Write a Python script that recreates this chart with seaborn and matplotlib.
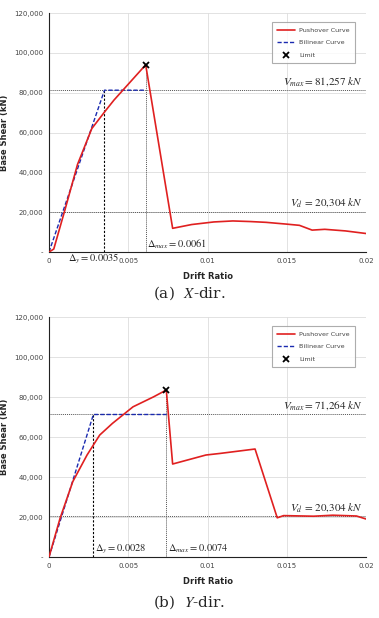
"""
Pushover curves (X and Y direction) with bilinear idealisation
"""
import numpy as np
import pandas as pd
import matplotlib.pyplot as plt
import seaborn as sns

sns.set_style("whitegrid")
plt.rcParams['font.family'] = ['DejaVu Sans']
plt.rcParams['mathtext.fontset'] = 'stix'

# --- X-direction data ---
x_drift = [0, 0.0003, 0.0010, 0.0018, 0.0027, 0.0036, 0.0041, 0.0061,
           0.0078, 0.0090, 0.0104, 0.0116, 0.0127, 0.0137, 0.0150, 0.0158,
           0.0166, 0.0174, 0.0187, 0.0200]
x_shear = [0, 1500, 21000, 44000, 62000, 71300, 76300, 94000,
           11900, 13800, 15100, 15600, 15300, 14900, 14000, 13400,
           11000, 11400, 10600, 9300]
x_bi_drift = [0, 0.0035, 0.0061]
x_bi_shear = [0, 81257, 81257]
x_dy, x_dmax = 0.0035, 0.0061
x_vmax, x_vd = 81257, 20304
x_peak = (0.0061, 94000)

# --- Y-direction data ---
y_drift = [0, 0.0007, 0.0015, 0.0024, 0.0028, 0.0032, 0.0040, 0.0053,
           0.0066, 0.0074, 0.0078, 0.0099, 0.0108, 0.0130, 0.0144, 0.0148,
           0.0167, 0.0179, 0.0194, 0.0200]
y_shear = [0, 19400, 37700, 51000, 56000, 61000, 66800, 75100,
           80100, 83500, 46500, 51000, 51800, 54000, 19600, 20700,
           20400, 20900, 20500, 19000]
y_bi_drift = [0, 0.0028, 0.0074]
y_bi_shear = [0, 71264, 71264]
y_dy, y_dmax = 0.0028, 0.0074
y_vmax, y_vd = 71264, 20304
y_peak = (0.0074, 83500)

x_ticks = [0, 0.005, 0.01, 0.015, 0.02]
x_tick_labels = ['0', '0.005', '0.01', '0.015', '0.02']
y_ticks = [0, 20000, 40000, 60000, 80000, 100000, 120000]
y_tick_labels = ['-', '20,000', '40,000', '60,000', '80,000', '100,000', '120,000']


def draw_panel(ax, drift, shear, bi_drift, bi_shear, dy, dmax, vmax, vd, peak,
               dy_label_y, dmax_label_y, dy_label_x, vmax_label, dy_label, dmax_label, vd_label):
    push = pd.DataFrame({'drift': drift, 'shear': shear})
    bil = pd.DataFrame({'drift': bi_drift, 'shear': bi_shear})

    # reference lines
    ax.axhline(vmax, color='#555555', lw=0.7, ls=(0, (1, 1)), zorder=1)
    ax.axhline(vd, color='#555555', lw=0.7, ls=(0, (1, 1)), zorder=1)
    ax.plot([dy, dy], [0, vmax], color='black', lw=0.8, ls=(0, (2, 1.5)), zorder=1)
    ax.plot([dmax, dmax], [0, peak[1]], color='#555555', lw=0.7, ls=(0, (1, 1)), zorder=1)

    sns.lineplot(data=push, x='drift', y='shear', ax=ax, color='#e02020', lw=1.2,
                 sort=False, label='Pushover Curve', zorder=3)
    sns.lineplot(data=bil, x='drift', y='shear', ax=ax, color='#1a2ab0', lw=1.0,
                 ls=(0, (3, 1.5)), sort=False, label='Bilinear Curve', zorder=2)
    ax.plot([peak[0]], [peak[1]], marker='x', color='black', ms=4, mew=1.3,
            ls='none', label='Limit', zorder=4)

    ax.set_xlim(0, 0.02)
    ax.set_ylim(0, 120000)
    ax.set_xticks(x_ticks)
    ax.set_xticklabels(x_tick_labels)
    ax.set_yticks(y_ticks)
    ax.set_yticklabels(y_tick_labels)
    ax.tick_params(labelsize=5, colors='#444444', pad=4, length=0)
    ax.grid(True, color='#dddddd', lw=0.6)
    for side in ['top', 'right']:
        ax.spines[side].set_visible(False)
    for side in ['left', 'bottom']:
        ax.spines[side].set_color('#222222')
        ax.spines[side].set_linewidth(0.8)

    ax.set_xlabel('Drift Ratio', fontsize=6, fontweight='bold', labelpad=6)
    ax.set_ylabel('Base Shear (kN)', fontsize=6, fontweight='bold', labelpad=4)

    ax.text(0.0198, vmax + 1200, vmax_label, ha='right', va='bottom', fontsize=8)
    ax.text(0.0198, vd + 1200, vd_label, ha='right', va='bottom', fontsize=8)
    ax.text(dy_label_x, dy_label_y, dy_label, ha='left', va='center', fontsize=7.5, clip_on=False)
    ax.text(dmax + 0.0001, dmax_label_y, dmax_label, ha='left', va='center', fontsize=7.5)

    leg = ax.legend(loc='upper right', fontsize=4.6, frameon=True, fancybox=False,
                    edgecolor='#999999', borderpad=0.8, labelspacing=1.1,
                    handlelength=2.8, handletextpad=0.6, bbox_to_anchor=(0.975, 0.975))
    leg.get_frame().set_linewidth(0.8)
    for t in leg.get_texts():
        t.set_color('#444444')


fig = plt.figure(figsize=(3.79, 6.18), dpi=100)
ax1 = fig.add_axes([0.1293, 0.5922, 0.8364, 0.3867])
ax2 = fig.add_axes([0.1293, 0.0987, 0.8364, 0.3883])

draw_panel(ax1, x_drift, x_shear, x_bi_drift, x_bi_shear, x_dy, x_dmax, x_vmax, x_vd,
           x_peak, -3600, 4000, 0.0012,
           r'$V_{max}=81{,}257\ kN$', r'$\Delta_y=0.0035$', r'$\Delta_{max}=0.0061$',
           r'$V_d\,=\,20{,}304\ kN$')
draw_panel(ax2, y_drift, y_shear, y_bi_drift, y_bi_shear, y_dy, y_dmax, y_vmax, y_vd,
           y_peak, 4000, 4000, y_dy + 0.0001,
           r'$V_{max}=71{,}264\ kN$', r'$\Delta_y=0.0028$', r'$\Delta_{max}=0.0074$',
           r'$V_d\,=\,20{,}304\ kN$')

fig.text(0.5, 1 - 293 / 618, r'(a)  $X$-dir.', ha='center', va='center',
         fontsize=11, family='DejaVu Serif')
fig.text(0.5, 1 - 602 / 618, r'(b)  $Y$-dir.', ha='center', va='center',
         fontsize=11, family='DejaVu Serif')

plt.savefig('out.png', dpi=100)
plt.close()
